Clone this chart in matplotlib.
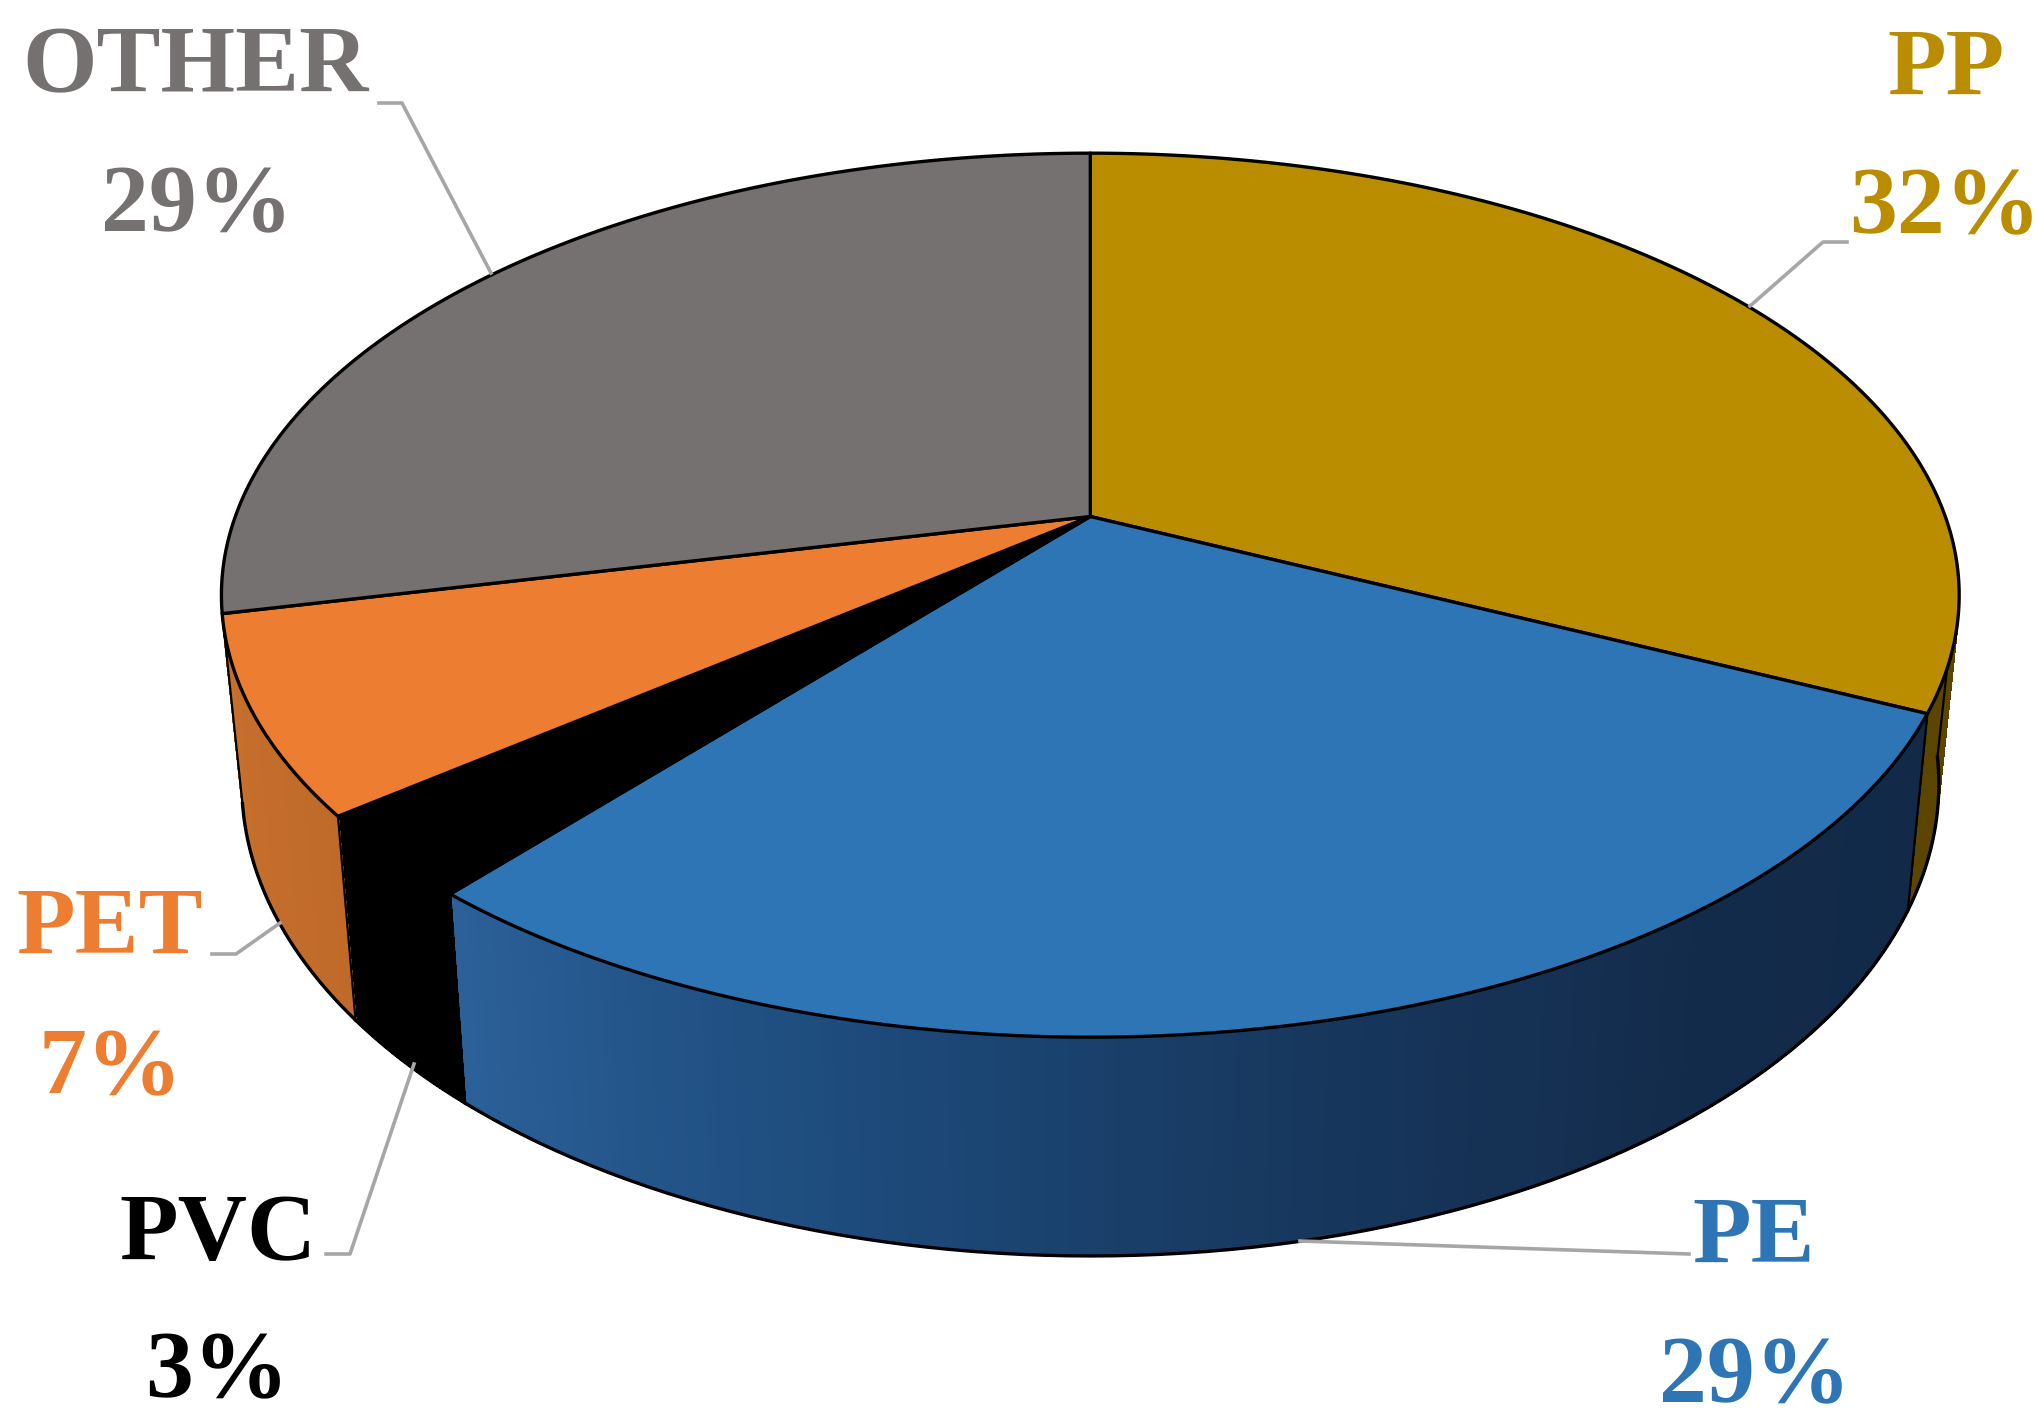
import numpy as np
import matplotlib
matplotlib.use('Agg')
import matplotlib.pyplot as plt
from matplotlib.collections import PolyCollection
from matplotlib.colors import LinearSegmentedColormap

names = ['PP', 'PE', 'PVC', 'PET', 'OTHER']
pct_labels = ['32%', '29%', '3%', '7%', '29%']
shares = [32.0, 29.2, 3.1, 7.2, 28.5]
colors = ['#BA8C00', '#2E75B6', '#000000', '#ED7D31', '#767171']
# wall shades from the left end of a slice to its right end
wall_shades = [['#5C4500', '#5C4500'],
               ['#2B6098', '#1D4B7C', '#17375D', '#132B4A', '#122A48'],
               ['#000000', '#000000'],
               ['#C8702D', '#C06A2A'],
               None]

# label centre x, name baseline, percent baseline (pixels)
label_x = [1946, 1754, 218, 110, 196]
name_y = [95, 1263, 1260, 954, 92]
pct_y = [233, 1402, 1397, 1094, 231]
pct_x = [1945, 1755, 217, 111, 197]

# leader lines as (label end, elbow), they finish on the pie rim
leader_start = [(1847, 242), (1689, 1254), (326, 1254), (212, 954), (379, 103)]
leader_elbow = [(1823, 242), (1689, 1254), (350, 1254), (236, 954), (402, 103)]
leader_end = [(1750, 306), (1300, 1241), (414, 1064), (280, 923), (491, 273)]

# perspective of the top and bottom discs
cx, cy = 1090.3, 516.5
k = 0.178
top_a, top_b = 855, 428
bot_a, bot_b, bot_y = 835, 457, 700


def top_rim(t):
    x, y = np.sin(t), np.cos(t)
    w = 1 + k * y
    return cx + top_a * x / w, cy - top_b * y / w


def bottom_rim(t):
    x, y = np.sin(t), np.cos(t)
    w = 1 + k * y
    return cx + bot_a * x / w, bot_y - bot_b * y / w


fig = plt.figure(figsize=(20.4, 14.22), dpi=100)
ax = fig.add_axes([0, 0, 1, 1])
ax.set_xlim(0, 2040)
ax.set_ylim(1422, 0)
ax.axis('off')

edges = np.radians(np.cumsum([0] + shares) * 3.6)
right_limit = np.radians(97)

# side walls, only the part that faces the viewer
for i in range(len(shares)):
    if wall_shades[i] is None:
        continue
    a = max(edges[i], right_limit)
    b = edges[i + 1]
    ts = np.linspace(a, b, 160)
    cmap = LinearSegmentedColormap.from_list('w', wall_shades[i])
    tx, ty = top_rim(ts)
    bx, by = bottom_rim(ts)
    quads = []
    cols = []
    for j in range(len(ts) - 1):
        quads.append([(tx[j], ty[j]), (tx[j + 1], ty[j + 1]), (bx[j + 1], by[j + 1]), (bx[j], by[j])])
        cols.append(cmap(1 - j / (len(ts) - 2)))
    ax.add_collection(PolyCollection(quads, facecolors=cols, edgecolors=cols, linewidths=1,
                                     antialiaseds=False, zorder=2))
    ax.plot(bx, by, color='black', lw=2.4, zorder=3)

# wall separators and the two outer silhouettes
for e in list(edges[1:5]) + [right_limit]:
    tx, ty = top_rim(e)
    bx, by = bottom_rim(e)
    ax.plot([tx, bx], [ty, by], color='black', lw=1.6, zorder=3)

# top faces
for i in range(len(shares)):
    ts = np.linspace(edges[i], edges[i + 1], 200)
    tx, ty = top_rim(ts)
    xs = np.concatenate([[cx], tx])
    ys = np.concatenate([[cy], ty])
    ax.fill(xs, ys, facecolor=colors[i], edgecolor='black', lw=2.4, joinstyle='round', zorder=4)

for i in range(len(names)):
    sx, sy = leader_start[i]
    ex, ey = leader_elbow[i]
    px, py = leader_end[i]
    ax.plot([sx, ex, px], [sy, ey, py], color='#A6A6A6', lw=2.6, zorder=5)
    ax.text(label_x[i], name_y[i], names[i], color=colors[i], family='Liberation Serif',
            fontweight='bold', fontsize=69, ha='center', va='baseline')
    ax.text(pct_x[i], pct_y[i], pct_labels[i], color=colors[i], family='Liberation Serif',
            fontweight='bold', fontsize=69, ha='center', va='baseline')

fig.savefig('out.png', dpi=100, facecolor='white')
